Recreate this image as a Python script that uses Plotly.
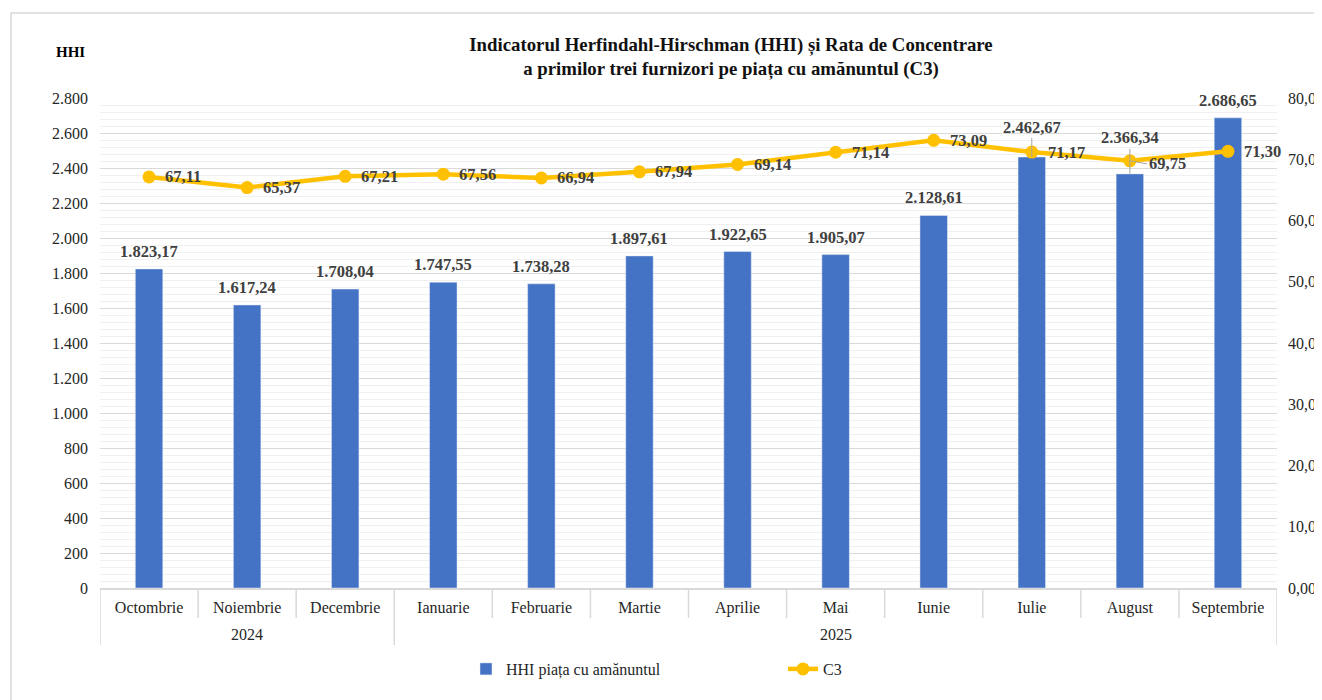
import plotly.graph_objects as go

years = ["2024"] * 3 + ["2025"] * 9
months = ["Octombrie", "Noiembrie", "Decembrie", "Ianuarie", "Februarie", "Martie",
          "Aprilie", "Mai", "Iunie", "Iulie", "August", "Septembrie"]
hhi = [1823.17, 1617.24, 1708.04, 1747.55, 1738.28, 1897.61, 1922.65, 1905.07,
       2128.61, 2462.67, 2366.34, 2686.65]
c3 = [67.11, 65.37, 67.21, 67.56, 66.94, 67.94, 69.14, 71.14, 73.09, 71.17, 69.75, 71.30]

# label styling (pixel offsets for labels that use leader lines)
bar_label_lift = [0, 0, 0, 0, 0, 0, 0, 0, 0, 30, 36, 0]
line_label_leader = [0, 0, 0, 0, 0, 0, 0, 0, 0, 0, 1, 0]

FONT = "Liberation Serif"
TXT = "#404040"
GRID = "#d9d9d9"
LEADER = "#a6a6a6"

OFF = 8  # page body margin
W, H = 1322, 700
# plot area in screen pixels: x 100..1277, y 98..588
L, T = 100 - OFF, 98 - OFF
PW, PH = 1177, 490
R, B = W - L - PW, H - T - PH


def px_x(p):
    return (p - OFF - L) / PW


def px_y(p):
    return (T + PH - (p - OFF)) / PH


def ro(v):
    s = f"{v:,.2f}"
    return s.replace(",", "X").replace(".", ",").replace("X", ".")


fig = go.Figure()
fig.add_trace(go.Bar(
    x=months, y=hhi, name="HHI piața cu amănuntul",
    marker_color="#4472C4", width=0.28, yaxis="y",
))
fig.add_trace(go.Scatter(
    x=months, y=c3, name="C3", yaxis="y2", mode="lines+markers",
    line=dict(color="#FFC000", width=4.5), marker=dict(size=13, color="#FFC000"),
))

lab_font = dict(family=FONT, size=16.5, color=TXT, weight="bold")
ann = []
for i, v in enumerate(hhi):
    lift = bar_label_lift[i]
    if lift:
        ann.append(dict(x=months[i], y=v, xref="x", yref="y", text=ro(v), showarrow=True,
                        ax=0, ay=-lift, arrowhead=0, arrowwidth=1, arrowcolor=LEADER,
                        standoff=0, startstandoff=0, font=lab_font))
    else:
        ann.append(dict(x=months[i], y=v, xref="x", yref="y", text=ro(v), showarrow=False,
                        yanchor="bottom", yshift=6, font=lab_font))
for i, v in enumerate(c3):
    if line_label_leader[i]:
        ann.append(dict(x=months[i], y=v, xref="x", yref="y2", text=ro(v), showarrow=True,
                        ax=17, ay=3, xanchor="left", arrowhead=0, arrowwidth=1,
                        arrowcolor=LEADER, standoff=0, startstandoff=0, font=lab_font))
    else:
        ann.append(dict(x=months[i], y=v, xref="x", yref="y2", text=ro(v), showarrow=False,
                        xanchor="left", xshift=14, font=lab_font))
ann.append(dict(xref="paper", yref="paper", x=px_x(70), y=px_y(52), text="<b>HHI</b>",
                xanchor="center", yanchor="middle",
                showarrow=False, font=dict(family=FONT, size=15, color="#000")))

# year row and group dividers, positioned by category index on the x scale
shapes = []
groups = []
for i, y in enumerate(years):
    if not groups or groups[-1][0] != y:
        groups.append([y, i, i])
    else:
        groups[-1][2] = i
for y, a, b in groups:
    ann.append(dict(x=(a + b) / 2, y=px_y(634), xref="x", yref="paper", text=y,
                    showarrow=False, yanchor="middle",
                    font=dict(family=FONT, size=16, color="#262626")))
group_edges = {g[1] - 0.5 for g in groups} | {g[2] + 0.5 for g in groups}
for k in range(len(months) + 1):
    xb = k - 0.5
    bottom = 645 if xb in group_edges else 618
    shapes.append(dict(type="line", xref="x", yref="paper", x0=xb, x1=xb,
                       y0=0, y1=px_y(bottom), line=dict(color=GRID, width=1.5)))

shapes.append(dict(type="rect", xref="paper", yref="paper",
                   x0=px_x(11), x1=px_x(1340), y0=px_y(720), y1=px_y(13),
                   line=dict(color=GRID, width=1.5), layer="below"))

fig.update_layout(
    width=W, height=H,
    margin=dict(l=L, r=R, t=T, b=B, autoexpand=False),
    paper_bgcolor="white", plot_bgcolor="white",
    separators=",.",
    font=dict(family=FONT, size=15, color=TXT),
    title=dict(text="<b>Indicatorul Herfindahl-Hirschman (HHI) și Rata de Concentrare<br>a primilor trei furnizori pe piața cu amănuntul (C3)</b>",
               x=(731 - OFF) / W, xanchor="center", y=1 - (51 - OFF) / H, yanchor="middle",
               font=dict(family=FONT, size=18.8, color="#111")),
    xaxis=dict(type="category", showline=True, linecolor=GRID, linewidth=1.5,
               ticks="", automargin=False, range=[-0.5, 11.5],
               tickfont=dict(family=FONT, size=16, color="#262626"), showgrid=False,
               ticklabelstandoff=4),
    yaxis=dict(range=[0, 2800], dtick=200, tickformat=",d", separatethousands=True,
               showgrid=True, gridcolor=GRID, gridwidth=1, zeroline=False, automargin=False,
               minor=dict(dtick=40, showgrid=True, gridcolor="#f0f0f0", gridwidth=1),
               tickfont=dict(family=FONT, size=16, color="#262626"), ticklabelstandoff=11),
    yaxis2=dict(range=[0, 80], dtick=10, tickformat=".2f", overlaying="y", side="right",
                showgrid=False, zeroline=False, automargin=False,
                tickfont=dict(family=FONT, size=16, color="#262626"), ticklabelstandoff=10),
    legend=dict(orientation="h", x=px_x(466), xanchor="left",
                y=px_y(669), yanchor="middle", entrywidth=272,
                font=dict(family=FONT, size=16, color="#262626")),
    annotations=ann,
    shapes=shapes,
)

fig.write_html("out.html")
